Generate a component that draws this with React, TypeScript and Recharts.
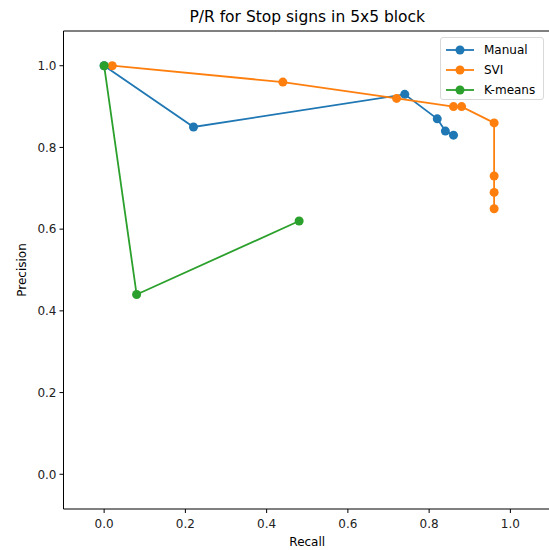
import { ScatterChart, Scatter, XAxis, YAxis, ReferenceLine } from 'recharts'

const manualRecall = [0.0, 0.22, 0.74, 0.82, 0.84, 0.86]
const manualPrecision = [1.0, 0.85, 0.93, 0.87, 0.84, 0.83]

const sviRecall = [0.02, 0.44, 0.72, 0.86, 0.88, 0.96, 0.96, 0.96, 0.96]
const sviPrecision = [1.0, 0.96, 0.92, 0.9, 0.9, 0.86, 0.73, 0.69, 0.65]

const kmeansRecall = [0.0, 0.08, 0.48]
const kmeansPrecision = [1.0, 0.44, 0.62]

const ticks = [0, 0.2, 0.4, 0.6, 0.8, 1.0]

const toPoints = (xs: number[], ys: number[]) => xs.map((x, i) => ({ x, y: ys[i] }))

const series = [
  { name: 'Manual', color: '#1f77b4', data: toPoints(manualRecall, manualPrecision) },
  { name: 'SVI', color: '#ff7f0e', data: toPoints(sviRecall, sviPrecision) },
  { name: 'K-means', color: '#2ca02c', data: toPoints(kmeansRecall, kmeansPrecision) },
]

const font = '"DejaVu Sans", sans-serif'
const tickStyle = { fontSize: 12, fill: '#222', fontFamily: font }

const Dot = (color: string) => (props: any) => (
  <circle cx={props.cx} cy={props.cy} r={4.5} fill={color} />
)

export default function App() {
  return (
    <div style={{ position: 'absolute', left: 0, top: 0, width: 549, height: 550, overflow: 'hidden', background: '#fff', fontFamily: font }}>
      <ScatterChart width={552} height={550} margin={{ top: 31, right: 1, left: 0, bottom: 0 }}>
        <XAxis
          type="number"
          dataKey="x"
          domain={[-0.1, 1.1]}
          ticks={ticks}
          allowDataOverflow
          tickFormatter={(v) => v.toFixed(1)}
          tick={tickStyle}
          tickSize={4}
          tickMargin={6}
          height={41}
          stroke="#000"
        />
        <YAxis
          type="number"
          dataKey="y"
          domain={[-0.085, 1.085]}
          ticks={ticks}
          allowDataOverflow
          tickFormatter={(v) => v.toFixed(1)}
          tick={tickStyle}
          tickSize={4}
          tickMargin={3}
          width={63.5}
          stroke="#000"
        />
        <ReferenceLine y={1.085} stroke="#000" strokeWidth={1} />
        {series.map((s) => (
          <Scatter
            key={s.name}
            name={s.name}
            data={s.data}
            fill={s.color}
            line={{ stroke: s.color, strokeWidth: 1.8 }}
            shape={Dot(s.color)}
            isAnimationActive={false}
          />
        ))}
      </ScatterChart>

      <div style={{ position: 'absolute', top: 8, left: 63.5, width: 487.5, textAlign: 'center', fontSize: 15.5, color: '#000' }}>
        P/R for Stop signs in 5x5 block
      </div>
      <div style={{ position: 'absolute', top: 535, left: 63.5, width: 487.5, textAlign: 'center', fontSize: 12, color: '#000' }}>
        Recall
      </div>
      <div
        style={{
          position: 'absolute',
          left: 22,
          top: 270,
          transform: 'translate(-50%, -50%) rotate(-90deg)',
          fontSize: 12,
          color: '#000',
          whiteSpace: 'nowrap',
        }}
      >
        Precision
      </div>

      <div
        style={{
          position: 'absolute',
          left: 440,
          top: 37,
          width: 104,
          height: 63,
          border: '1px solid #d9d9d9',
          borderRadius: 3,
          background: 'rgba(255,255,255,0.8)',
          boxSizing: 'border-box',
        }}
      >
        {series.map((s, i) => (
          <div key={s.name} style={{ position: 'absolute', left: 4, top: 5 + i * 20, height: 14, display: 'flex', alignItems: 'center' }}>
            <svg width={30} height={14}>
              <line x1={1} x2={29} y1={7} y2={7} stroke={s.color} strokeWidth={1.8} />
              <circle cx={15} cy={7} r={4.5} fill={s.color} />
            </svg>
            <span style={{ marginLeft: 9, fontSize: 12, color: '#000' }}>{s.name}</span>
          </div>
        ))}
      </div>
    </div>
  )
}
